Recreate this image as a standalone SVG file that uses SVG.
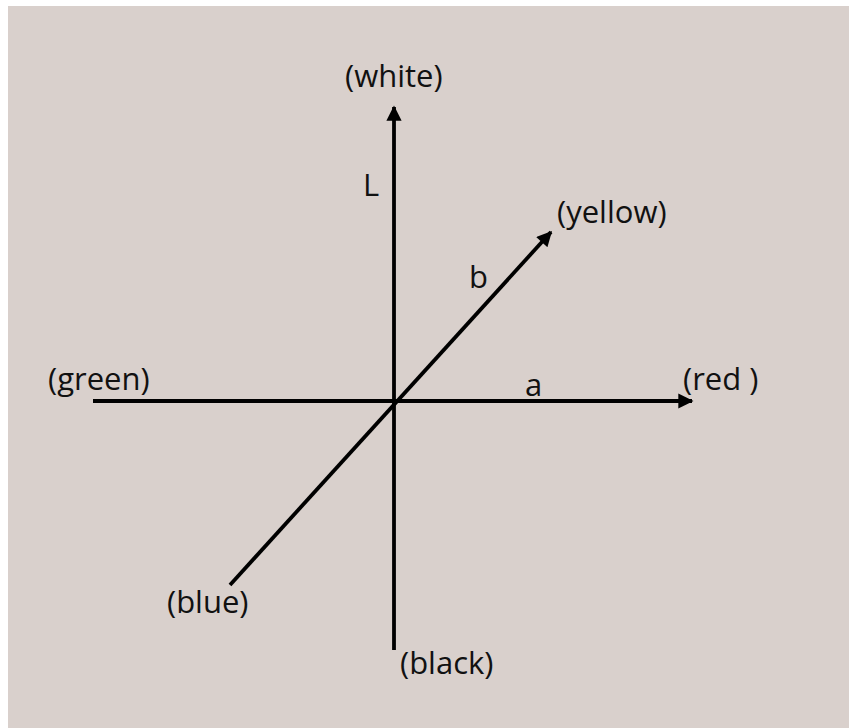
<svg xmlns="http://www.w3.org/2000/svg" width="849" height="728" viewBox="0 0 849 728">
<style>
.bg{fill:#d9d0cc}
.ax{stroke:#000;stroke-width:3.8;fill:none}
.t{font-family:"Open Sans","Liberation Sans",sans-serif;font-size:31px;fill:#111}
</style>
<defs>
<marker id="ah" viewBox="0 0 10 10" refX="9" refY="5" markerWidth="4.8" markerHeight="4" markerUnits="strokeWidth" orient="auto">
<path d="M0,0 L10,5 L0,10 z" fill="#000"/>
</marker>
</defs>
<rect width="849" height="728" fill="#ffffff"/>
<rect class="bg" x="8" y="6" width="841" height="722"/>
<g id="connectors">
<line class="ax" x1="394" y1="650" x2="394" y2="107" marker-end="url(#ah)"/>
<line class="ax" x1="93" y1="401" x2="692" y2="401" marker-end="url(#ah)"/>
<line class="ax" x1="230" y1="585" x2="551" y2="232" marker-end="url(#ah)"/>
</g>
<g id="white"><text class="t" x="345" y="87">(white)</text></g>
<g id="L"><text class="t" x="363" y="196">L</text></g>
<g id="yellow"><text class="t" x="557" y="223">(yellow)</text></g>
<g id="b"><text class="t" x="469" y="288">b</text></g>
<g id="green"><text class="t" x="48" y="390">(green)</text></g>
<g id="a"><text class="t" x="525" y="396">a</text></g>
<g id="red"><text class="t" x="683" y="390">(red )</text></g>
<g id="blue"><text class="t" x="167" y="613">(blue)</text></g>
<g id="black"><text class="t" x="400" y="674">(black)</text></g>
</svg>
